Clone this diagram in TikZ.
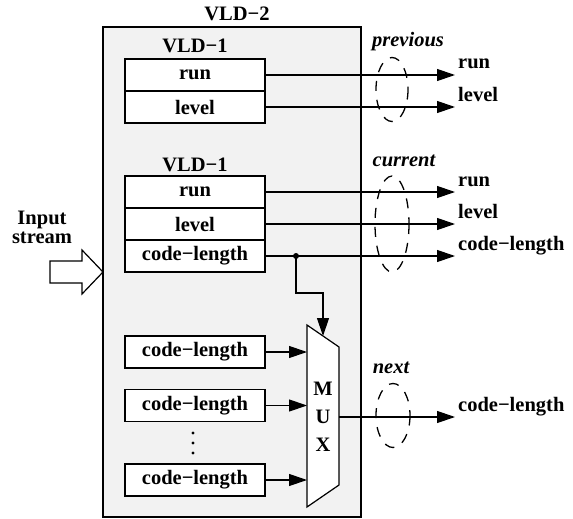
\documentclass[tikz,border=0pt]{standalone}
\usepackage{fontspec}
\setmainfont{Liberation Serif}
\usetikzlibrary{arrows.meta}
\definecolor{panel}{RGB}{242,242,242}
\begin{document}
\begin{tikzpicture}[x=1pt,y=-1pt,
  bigfont/.style={font=\fontsize{20.5}{19}\selectfont\bfseries},
  txt/.style={bigfont, inner sep=0pt},
  itxt/.style={font=\fontsize{20.5}{21}\selectfont\bfseries\itshape, inner sep=0pt},
  cell/.style={draw, fill=white, line width=1.2pt, minimum width=140pt, minimum height=32pt, inner sep=0pt, bigfont},
  arr/.style={line width=1.2pt, -{Triangle[length=18pt,width=12pt]}},
  wire/.style={line width=1.2pt},
  grp/.style={dashed, dash pattern=on 10pt off 9pt, line width=1.3pt}
]
\useasboundingbox (0,0) rectangle (573,519);

% outer VLD-2 box
\draw[line width=1.2pt, fill=panel] (103,27) rectangle (361,517);
\node[txt] (t2) at (237,14) {VLD−2};

% first VLD-1
\node[txt] (ta) at (195,46) {VLD−1};
\node[cell] (r1) at (195,75) {run};
\node[cell] (l1) at (195,107) {level};

% second VLD-1
\node[txt] (tb) at (195,165) {VLD−1};
\node[cell] (r2) at (195,192) {run};
\node[cell] (l2) at (195,224) {level};
\node[cell] (c2) at (195,256) {code−length};

% bottom code-length boxes
\node[cell] (cA) at (195,352) {code−length};
\node[cell] (cB) at (195,405.5) {code−length};
\node[cell] (cC) at (195,480) {code−length};
\foreach \yy in {433,443,453} \fill (193,\yy) circle (1.6pt);

% MUX
\coordinate (mtl) at (307,325);
\coordinate (mtr) at (339,347);
\coordinate (mbr) at (339,485);
\coordinate (mbl) at (307,507);
\draw[line width=1.2pt, fill=white] (mtl) -- (mtr) -- (mbr) -- (mbl) -- cycle;
\node[txt] (mM) at (323,389) {M};
\node[txt] (mU) at (323,417) {U};
\node[txt] (mX) at (323,445) {X};

% input stream
\node[bigfont, align=center, inner sep=0pt] (inp) at (42,227) {Input\\stream};
\draw[line width=1.2pt, fill=white] (50,261) -- (82,261) -- (82,250) -- (103,272) -- (82,294) -- (82,283) -- (50,283) -- cycle;

% output labels
\coordinate (o1) at (455,75);
\coordinate (o2) at (455,107);
\coordinate (o3) at (455,192);
\coordinate (o4) at (455,224);
\coordinate (o5) at (455,256);
\coordinate (o6) at (455,417);
\node[txt, anchor=base west] (lo1) at (458,69) {run};
\node[txt, anchor=base west] (lo2) at (458,101) {level};
\node[txt, anchor=base west] (lo3) at (458,186) {run};
\node[txt, anchor=base west] (lo4) at (458,218) {level};
\node[txt, anchor=base west] (lo5) at (458,250) {code−length};
\node[txt, anchor=base west] (lo6) at (458,411) {code−length};

\draw[arr] (r1.east) -- (o1);
\draw[arr] (l1.east) -- (o2);
\draw[arr] (r2.east) -- (o3);
\draw[arr] (l2.east) -- (o4);
\draw[arr] (c2.east) -- (o5);

% branch to MUX select
\coordinate (j) at (296,256);
\coordinate (bend) at (296,293);
\coordinate (msel) at (323,336);
\fill (j) circle (3pt);
\draw[arr] (j) -- (bend) -| (msel);

% MUX inputs
\draw[arr] (cA.east) -- (cA.east -| mtl);
\draw[arr] (cB.east) -- (cB.east -| mtl);
\draw[arr] (cC.east) -- (cC.east -| mtl);

% MUX output
\coordinate (mout) at (339,417);
\draw[arr] (mout) -- (o6);

% groups
\draw[grp] (392,89.5) ellipse [x radius=16, y radius=32];
\draw[grp] (392,224) ellipse [x radius=17, y radius=48];
\draw[grp] (393,415.5) ellipse [x radius=17, y radius=32];
\node[itxt, anchor=base] (gp) at (408,47) {previous};
\node[itxt, anchor=base] (gc) at (404,166) {current};
\node[itxt, anchor=base] (gn) at (391,373) {next};
\end{tikzpicture}
\end{document}
